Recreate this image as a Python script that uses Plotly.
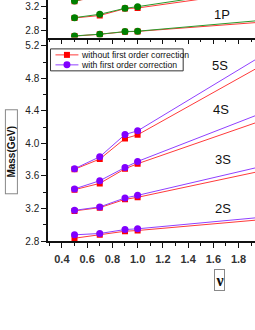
import plotly.graph_objects as go

# ---------------- data ----------------
nu = [0.5, 0.7, 0.9, 1.0]
nu_ext = [1.0, 2.0]

# bottom panel (S states): without (red) / with (purple) first-order correction
s2_without = [2.834, 2.876, 2.920, 2.929]
s2_with = [2.876, 2.892, 2.941, 2.950]
s2_without_end = 3.065
s2_with_end = 3.094

s3_without = [3.170, 3.210, 3.312, 3.337]
s3_with = [3.177, 3.219, 3.329, 3.361]
s3_without_end = 3.667
s3_with_end = 3.723

s4_without = [3.431, 3.508, 3.688, 3.750]
s4_with = [3.440, 3.541, 3.704, 3.778]
s4_without_end = 4.288
s4_with_end = 4.381

s5_without = [3.682, 3.807, 4.060, 4.105]
s5_with = [3.688, 3.835, 4.109, 4.154]
s5_without_end = 4.972
s5_with_end = 5.092

# top panel (P states, partially visible)
pa_without = [2.715, 2.744, 2.786, 2.792]
pa_with = [2.718, 2.746, 2.789, 2.795]
pa_without_end = 2.946
pa_with_end = 2.976

pb_without = [3.012, 3.052, 3.165, 3.175]
pb_with = [3.017, 3.072, 3.170, 3.197]
pb_without_end = 3.465
pb_with_end = 3.506

pc_without = [3.285, 3.380, 3.470, 3.500]
pc_with = [3.290, 3.385, 3.475, 3.505]
pc_without_end = 3.840
pc_with_end = 3.860

x_ticks = [0.4, 0.6, 0.8, 1.0, 1.2, 1.4, 1.6, 1.8]
bottom_labels = ["5S", "4S", "3S", "2S"]
top_label = "1P"
legend_names = ["without first order correction", "with first order correction"]

# ---------------- style ----------------
RED = "#ff0000"
RED_LINE = "#ff3a3a"
PURPLE = "#8000ff"
PURPLE_LINE = "#9040ff"
GREEN = "#008000"
GREEN_LINE = "#2a9a2a"
FONT = "Liberation Sans, Arial, sans-serif"

fig = go.Figure()


def add_series(vals, end, xa, ya, mcolor, lcolor, symbol, size, name=None):
    fig.add_trace(go.Scatter(
        x=nu_ext, y=[vals[-1], end], mode="lines", xaxis=xa, yaxis=ya,
        line=dict(color=lcolor, width=1), showlegend=False, hoverinfo="skip"))
    fig.add_trace(go.Scatter(
        x=nu, y=vals, mode="lines+markers", xaxis=xa, yaxis=ya,
        line=dict(color=lcolor, width=1),
        marker=dict(color=mcolor, symbol=symbol, size=size),
        name=name, showlegend=False))


# bottom panel
for w, wend in [(s5_without, s5_without_end), (s4_without, s4_without_end),
                (s3_without, s3_without_end), (s2_without, s2_without_end)]:
    add_series(w, wend, "x", "y", RED, RED_LINE, "square", 6, legend_names[0])
for w, wend in [(s5_with, s5_with_end), (s4_with, s4_with_end),
                (s3_with, s3_with_end), (s2_with, s2_with_end)]:
    add_series(w, wend, "x", "y", PURPLE, PURPLE_LINE, "circle", 7, legend_names[1])

# top panel
for w, wend in [(pa_without, pa_without_end), (pb_without, pb_without_end),
                (pc_without, pc_without_end)]:
    add_series(w, wend, "x2", "y2", RED, RED_LINE, "square", 6)
for w, wend in [(pa_with, pa_with_end), (pb_with, pb_with_end),
                (pc_with, pc_with_end)]:
    add_series(w, wend, "x2", "y2", GREEN, GREEN_LINE, "circle", 7)

# ---------------- layout ----------------
W, H = 255, 330
ML, MR, MT, MB = 47.5, 0, 0, 88.5
PW, PH = W - ML - MR, H - MT - MB
split = (241.5 - 37.7) / PH


def px(x):
    return (x - ML) / PW


def py(y):
    return (MT + PH - y) / PH


xcommon = dict(range=[0.29, 1.93], tickmode="array", tickvals=x_ticks,
               ticks="outside", ticklen=5, tickwidth=1.2, tickcolor="#111",
               showline=True, linecolor="#111", linewidth=1.5,
               showgrid=False, zeroline=False, automargin=False,
               minor=dict(dtick=0.1, tick0=0, ticks="outside", ticklen=3,
                          tickwidth=1.2, tickcolor="#111"))
ycommon = dict(dtick=0.4, tick0=0, ticks="outside", ticklen=5, tickwidth=1.2,
               tickcolor="#111", showline=True, linecolor="#111", linewidth=1.5,
               showgrid=False, zeroline=False, tickformat=".1f", automargin=False,
               tickfont=dict(family=FONT, size=10, color="#222"),
               minor=dict(dtick=0.2, tick0=0, ticks="outside", ticklen=3,
                          tickwidth=1.2, tickcolor="#111"))

fig.update_layout(
    template="none",
    width=W, height=H,
    margin=dict(l=ML, r=MR, t=MT, b=MB, pad=0),
    paper_bgcolor="white", plot_bgcolor="white",
    font=dict(family=FONT, color="#111"),
    xaxis=dict(**xcommon, domain=[0, 1], anchor="y", tickformat=".1f",
               ticklabelstandoff=2,
               tickfont=dict(family=FONT, size=11, color="#333", weight="bold")),
    yaxis=dict(**ycommon, domain=[0, split], range=[2.8, 5.30], anchor="x"),
    xaxis2=dict(**xcommon, domain=[0, 1], anchor="y2", showticklabels=False,
                matches="x"),
    yaxis2=dict(**ycommon, domain=[split, 1], range=[2.69, 3.306], anchor="x2"),
    showlegend=False,
)

# legend box (drawn in layout, pixel-placed)
shapes = []
shapes.append(dict(type="rect", xref="paper", yref="paper",
                   x0=px(50), x1=px(183), y0=py(49), y1=py(71),
                   line=dict(color="#333", width=1), fillcolor="white", layer="above"))
leg_rows = [(55, RED, RED_LINE, "square"), (65, PURPLE, PURPLE_LINE, "circle")]
for ry, mcol, lcol, sym in leg_rows:
    shapes.append(dict(type="line", xref="paper", yref="paper",
                       x0=px(55), x1=px(78), y0=py(ry), y1=py(ry),
                       line=dict(color=lcol, width=1), layer="above"))
    r = 3 if sym == "square" else 3.5
    shapes.append(dict(type="rect" if sym == "square" else "circle",
                       xref="paper", yref="paper",
                       x0=px(66.5 - r), x1=px(66.5 + r), y0=py(ry - r), y1=py(ry + r),
                       line=dict(color=mcol, width=0), fillcolor=mcol, layer="above"))
fig.update_layout(shapes=shapes)

annotations = []
for (ry, _, _, _), name in zip(leg_rows, legend_names):
    annotations.append(dict(x=px(78.5), y=py(ry), xref="paper", yref="paper",
                            xanchor="left", yanchor="middle", text=name,
                            showarrow=False,
                            font=dict(family=FONT, size=8.7, color="#111")))

label_pos = [(1.652, 4.963), (1.66, 4.411), (1.676, 3.798), (1.676, 3.198)]
for txt, (lx, ly) in zip(bottom_labels, label_pos):
    annotations.append(dict(x=lx, y=ly, xref="x", yref="y", text=txt,
                            xanchor="center", yanchor="middle",
                            showarrow=False, font=dict(family=FONT, size=13, color="#111")))
annotations.append(dict(x=1.668, y=3.061, xref="x2", yref="y2", text=top_label,
                        xanchor="center", yanchor="middle",
                        showarrow=False, font=dict(family=FONT, size=13, color="#111")))
annotations.append(dict(x=px(11), y=py(152), xref="paper", yref="paper",
                        xanchor="center", yanchor="middle",
                        text="<b>Mass(GeV)</b>", textangle=-90, showarrow=False,
                        width=83, height=11, bordercolor="#888", borderwidth=1,
                        borderpad=0, font=dict(family=FONT, size=10, color="#111")))
annotations.append(dict(x=px(219.5), y=py(280.5), xref="paper", yref="paper",
                        xanchor="center", yanchor="middle",
                        text="<b>ν</b>", showarrow=False, width=9, height=20,
                        bordercolor="#888", borderwidth=1, borderpad=0,
                        font=dict(family="Liberation Serif, Times New Roman, serif",
                                  size=16, color="#111")))
fig.update_layout(annotations=annotations)

fig.write_html("out.html", config={"displayModeBar": False},
               post_script="document.body.style.margin='0';document.body.style.padding='0';")
